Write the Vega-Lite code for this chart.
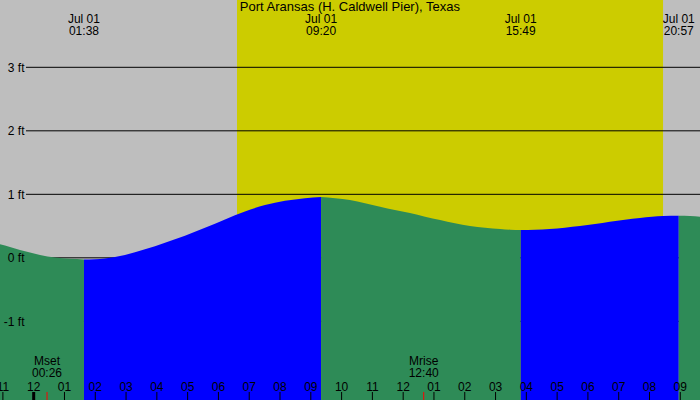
{
  "$schema": "https://vega.github.io/schema/vega-lite/v6.json",
  "description": "Tide chart, Port Aransas (H. Caldwell Pier), Texas",
  "width": 700,
  "height": 400,
  "autosize": "none",
  "padding": 0,
  "background": "#bebebe",
  "config": {
    "view": {"fill": "#bebebe", "stroke": null},
    "text": {"font": "Liberation Sans", "fontSize": 12, "color": "black"}
  },
  "datasets": {
    "tide": [
      {"h": -1.094, "ft": 0.213, "seg": "a", "phase": "fall"},
      {"h": -0.77, "ft": 0.17, "seg": "a", "phase": "fall"},
      {"h": -0.445, "ft": 0.123, "seg": "a", "phase": "fall"},
      {"h": -0.12, "ft": 0.083, "seg": "a", "phase": "fall"},
      {"h": 0.205, "ft": 0.044, "seg": "a", "phase": "fall"},
      {"h": 0.692, "ft": 0.004, "seg": "a", "phase": "fall"},
      {"h": 1.179, "ft": -0.015, "seg": "a", "phase": "fall"},
      {"h": 1.633, "ft": -0.025, "seg": "a", "phase": "fall"},
      {"h": 1.633, "ft": -0.025, "seg": "b", "phase": "rise"},
      {"h": 1.99, "ft": -0.021, "seg": "b", "phase": "rise"},
      {"h": 2.316, "ft": -0.01, "seg": "b", "phase": "rise"},
      {"h": 2.965, "ft": 0.044, "seg": "b", "phase": "rise"},
      {"h": 3.615, "ft": 0.134, "seg": "b", "phase": "rise"},
      {"h": 4.264, "ft": 0.238, "seg": "b", "phase": "rise"},
      {"h": 4.913, "ft": 0.348, "seg": "b", "phase": "rise"},
      {"h": 5.563, "ft": 0.474, "seg": "b", "phase": "rise"},
      {"h": 6.213, "ft": 0.605, "seg": "b", "phase": "rise"},
      {"h": 6.862, "ft": 0.731, "seg": "b", "phase": "rise"},
      {"h": 7.512, "ft": 0.83, "seg": "b", "phase": "rise"},
      {"h": 8.161, "ft": 0.898, "seg": "b", "phase": "rise"},
      {"h": 8.81, "ft": 0.94, "seg": "b", "phase": "rise"},
      {"h": 9.333, "ft": 0.956, "seg": "b", "phase": "rise"},
      {"h": 9.333, "ft": 0.956, "seg": "c", "phase": "fall"},
      {"h": 9.79, "ft": 0.937, "seg": "c", "phase": "fall"},
      {"h": 10.27, "ft": 0.91, "seg": "c", "phase": "fall"},
      {"h": 10.76, "ft": 0.858, "seg": "c", "phase": "fall"},
      {"h": 11.25, "ft": 0.805, "seg": "c", "phase": "fall"},
      {"h": 11.73, "ft": 0.753, "seg": "c", "phase": "fall"},
      {"h": 12.22, "ft": 0.705, "seg": "c", "phase": "fall"},
      {"h": 12.71, "ft": 0.647, "seg": "c", "phase": "fall"},
      {"h": 13.2, "ft": 0.595, "seg": "c", "phase": "fall"},
      {"h": 13.68, "ft": 0.543, "seg": "c", "phase": "fall"},
      {"h": 14.17, "ft": 0.5, "seg": "c", "phase": "fall"},
      {"h": 14.66, "ft": 0.474, "seg": "c", "phase": "fall"},
      {"h": 15.15, "ft": 0.454, "seg": "c", "phase": "fall"},
      {"h": 15.47, "ft": 0.443, "seg": "c", "phase": "fall"},
      {"h": 15.817, "ft": 0.438, "seg": "c", "phase": "fall"},
      {"h": 15.817, "ft": 0.438, "seg": "d", "phase": "rise"},
      {"h": 16.28, "ft": 0.443, "seg": "d", "phase": "rise"},
      {"h": 16.76, "ft": 0.454, "seg": "d", "phase": "rise"},
      {"h": 17.25, "ft": 0.474, "seg": "d", "phase": "rise"},
      {"h": 17.74, "ft": 0.5, "seg": "d", "phase": "rise"},
      {"h": 18.23, "ft": 0.532, "seg": "d", "phase": "rise"},
      {"h": 18.71, "ft": 0.568, "seg": "d", "phase": "rise"},
      {"h": 19.2, "ft": 0.6, "seg": "d", "phase": "rise"},
      {"h": 19.69, "ft": 0.627, "seg": "d", "phase": "rise"},
      {"h": 20.08, "ft": 0.647, "seg": "d", "phase": "rise"},
      {"h": 20.44, "ft": 0.658, "seg": "d", "phase": "rise"},
      {"h": 20.95, "ft": 0.663, "seg": "d", "phase": "rise"},
      {"h": 20.95, "ft": 0.663, "seg": "e", "phase": "fall"},
      {"h": 21.31, "ft": 0.658, "seg": "e", "phase": "fall"},
      {"h": 21.64, "ft": 0.647, "seg": "e", "phase": "fall"}
    ],
    "sun": [{"rise": 6.603, "set": 20.44}],
    "grid": [{"ft": -1}, {"ft": 0}, {"ft": 1}, {"ft": 2}, {"ft": 3}],
    "hours": [
      {"h": -1, "label": "11"}, {"h": 0, "label": "12"}, {"h": 1, "label": "01"},
      {"h": 2, "label": "02"}, {"h": 3, "label": "03"}, {"h": 4, "label": "04"},
      {"h": 5, "label": "05"}, {"h": 6, "label": "06"}, {"h": 7, "label": "07"},
      {"h": 8, "label": "08"}, {"h": 9, "label": "09"}, {"h": 10, "label": "10"},
      {"h": 11, "label": "11"}, {"h": 12, "label": "12"}, {"h": 13, "label": "01"},
      {"h": 14, "label": "02"}, {"h": 15, "label": "03"}, {"h": 16, "label": "04"},
      {"h": 17, "label": "05"}, {"h": 18, "label": "06"}, {"h": 19, "label": "07"},
      {"h": 20, "label": "08"}, {"h": 21, "label": "09"}
    ],
    "extremes": [
      {"h": 1.633, "label": "Jul 01\n01:38"},
      {"h": 9.333, "label": "Jul 01\n09:20"},
      {"h": 15.817, "label": "Jul 01\n15:49"},
      {"h": 20.95, "label": "Jul 01\n20:57"}
    ],
    "moon": [
      {"h": 0.433, "label": "Mset\n00:26"},
      {"h": 12.667, "label": "Mrise\n12:40"}
    ],
    "title": [{"h": 10.27, "label": "Port Aransas (H. Caldwell Pier), Texas"}]
  },
  "layer": [
    {
      "data": {"name": "sun"},
      "mark": {"type": "rect", "color": "#cccc00"},
      "encoding": {
        "x": {
          "field": "rise",
          "type": "quantitative",
          "scale": {"domain": [-1.094, 21.64], "nice": false, "zero": false},
          "axis": null
        },
        "x2": {"field": "set"},
        "y": {
          "datum": 4.06,
          "type": "quantitative",
          "scale": {"domain": [-2.239, 4.06], "nice": false, "zero": false},
          "axis": {
            "orient": "left",
            "offset": -26,
            "values": [-1, 0, 1, 2, 3],
            "labelExpr": "datum.value + ' ft'",
            "domain": false,
            "ticks": false,
            "grid": false,
            "title": null,
            "labelPadding": 2,
            "labelFont": "Liberation Sans",
            "labelFontSize": 12,
            "labelColor": "black",
            "zindex": 1
          }
        },
        "y2": {"datum": -2.239}
      }
    },
    {
      "data": {"name": "grid"},
      "mark": {"type": "rule", "stroke": "black", "strokeWidth": 1},
      "encoding": {
        "y": {"field": "ft", "type": "quantitative"},
        "x": {"datum": -0.25, "type": "quantitative"},
        "x2": {"datum": 21.64}
      }
    },
    {
      "data": {"name": "tide"},
      "mark": {"type": "area", "interpolate": "monotone", "clip": true},
      "encoding": {
        "x": {"field": "h", "type": "quantitative"},
        "y": {"field": "ft", "type": "quantitative"},
        "y2": {"datum": -2.239},
        "detail": {"field": "seg"},
        "color": {
          "field": "phase",
          "type": "nominal",
          "scale": {"domain": ["fall", "rise"], "range": ["#2e8b57", "#0000ff"]},
          "legend": null
        }
      }
    },
    {
      "data": {"name": "hours"},
      "mark": {"type": "rule", "stroke": "black"},
      "encoding": {
        "x": {"field": "h", "type": "quantitative"},
        "y": {"datum": -2.239, "type": "quantitative"},
        "y2": {"datum": -2.113},
        "strokeWidth": {"condition": {"test": "datum.h === 0", "value": 3}, "value": 1}
      }
    },
    {
      "data": {"name": "hours"},
      "mark": {"type": "text", "baseline": "alphabetic", "align": "center"},
      "encoding": {
        "x": {"field": "h", "type": "quantitative"},
        "y": {"datum": -2.098, "type": "quantitative"},
        "text": {"field": "label"}
      }
    },
    {
      "data": {"name": "moon"},
      "mark": {"type": "rule", "stroke": "red", "strokeWidth": 1},
      "encoding": {
        "x": {"field": "h", "type": "quantitative"},
        "y": {"datum": -2.239, "type": "quantitative"},
        "y2": {"datum": -2.113}
      }
    },
    {
      "data": {"name": "moon"},
      "mark": {"type": "text", "baseline": "top", "align": "center", "lineBreak": "\n", "lineHeight": 12},
      "encoding": {
        "x": {"field": "h", "type": "quantitative"},
        "y": {"datum": -1.551, "type": "quantitative"},
        "text": {"field": "label"}
      }
    },
    {
      "data": {"name": "extremes"},
      "mark": {"type": "text", "baseline": "top", "align": "center", "lineBreak": "\n", "lineHeight": 12},
      "encoding": {
        "x": {"field": "h", "type": "quantitative"},
        "y": {"datum": 3.839, "type": "quantitative"},
        "text": {"field": "label"}
      }
    },
    {
      "data": {"name": "title"},
      "mark": {"type": "text", "baseline": "top", "align": "center", "fontSize": 13},
      "encoding": {
        "x": {"field": "h", "type": "quantitative"},
        "y": {"datum": 4.045, "type": "quantitative"},
        "text": {"field": "label"}
      }
    }
  ]
}
